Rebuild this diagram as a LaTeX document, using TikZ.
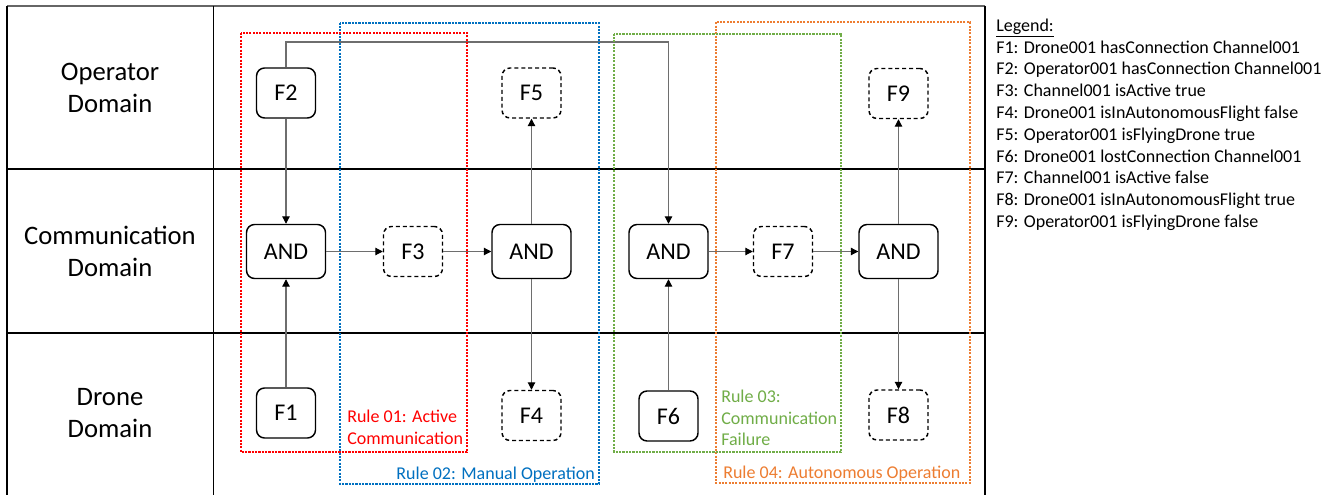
\documentclass[tikz,border=0pt]{standalone}
\usepackage{fontspec}
\setmainfont{Carlito}
\usetikzlibrary{arrows.meta}
\definecolor{ruleRed}{HTML}{FF0000}
\definecolor{ruleBlue}{HTML}{0070C0}
\definecolor{ruleGreen}{HTML}{70AD47}
\definecolor{ruleOrange}{HTML}{ED7D31}
\definecolor{wire}{HTML}{6E6E6E}
\begin{document}
\begin{tikzpicture}[x=0.75pt,y=-0.75pt,
  fact/.style={draw=black, line width=1.1pt, rounded corners=6pt, fill=white,
    minimum width=44.25pt, minimum height=37.5pt, inner sep=0pt,
    font=\fontsize{18}{20}\selectfont},
  derived/.style={fact, dash pattern=on 3pt off 2.2pt},
  gate/.style={fact, minimum width=59.25pt, minimum height=40.5pt},
  link/.style={draw=wire, line width=0.8pt,
    -{Triangle[length=5.5pt,width=5.5pt,color=black]}},
  rulebox/.style={line width=1.6pt, dash pattern=on 1.6pt off 0.9pt},
  lanelabel/.style={font=\fontsize{20}{24}\selectfont, align=center},
  rulelabel/.style={font=\fontsize{13.5}{16}\selectfont, align=left, inner sep=0pt},
  gridline/.style={draw=black, line width=1.2pt}
]
% canvas
\fill[white] (0,0) rectangle (1332,495);
\useasboundingbox (0,0) rectangle (1332,495);

% swimlane table
\draw[draw=black!60, line width=0.8pt] (7,6) -- (985,6);
\draw[gridline] (7,6) -- (7,495);
\draw[gridline] (985,6) -- (985,495);
\draw[draw=black, line width=0.7pt] (213,6) -- (213,495);
\draw[gridline] (7,169) -- (985,169);
\draw[gridline] (7,333) -- (985,333);

\node[lanelabel] (opd) at (110,88) {Operator\\Domain};
\node[lanelabel] (comd) at (110,251) {Communication\\Domain};
\node[lanelabel] (drd) at (110,413) {Drone\\Domain};

% facts and conjunctions
\node[fact] (F2) at (286,93) {F2};
\node[fact] (F1) at (286,413) {F1};
\node[gate] (A1) at (286,251.5) {AND};
\node[derived] (F3) at (413,251.5) {F3};
\node[gate] (A2) at (531.5,251.5) {AND};
\node[derived] (F5) at (531.5,93) {F5};
\node[derived] (F4) at (531.5,415.5) {F4};
\node[gate] (A3) at (668.5,251.5) {AND};
\node[fact] (F6) at (668.5,416) {F6};
\node[derived] (F7) at (783,251.5) {F7};
\node[gate] (A4) at (898.5,251.5) {AND};
\node[derived] (F9) at (898.5,93.5) {F9};
\node[derived] (F8) at (898.5,415) {F8};

% inference links
\coordinate (bus) at (0,42);
\draw[link] (F2) -- (A1);
\draw[link] (F1) -- (A1);
\draw[link] (A1) -- (F3);
\draw[link] (F3) -- (A2);
\draw[link] (A2) -- (F5);
\draw[link] (A2) -- (F4);
\draw[link] (F2.north) |- (bus -| A3.north) -- (A3.north);
\draw[link] (F6) -- (A3);
\draw[link] (A3) -- (F7);
\draw[link] (F7) -- (A4);
\draw[link] (A4) -- (F9);
\draw[link] (A4) -- (F8);

% rule groupings
\draw[rulebox, ruleBlue] (340,22.7) rectangle (599,484);
\draw[rulebox, ruleRed] (240.7,33) rectangle (467,452);
\draw[rulebox, ruleOrange] (716,22.3) rectangle (970,483);
\draw[rulebox, ruleGreen] (614,33.7) rectangle (841,452);

\node[rulelabel, text=ruleRed, anchor=north west] (r1) at (347,410) {Rule 01: Active\\Communication};
\node[rulelabel, text=ruleBlue, anchor=base east] (r2) at (595,479) {Rule 02: Manual Operation};
\node[rulelabel, text=ruleGreen, anchor=north west] (r3) at (721,390) {Rule 03:\\Communication\\Failure};
\node[rulelabel, text=ruleOrange, anchor=base west] (r4) at (723,478) {Rule 04: Autonomous Operation};

% legend
\node[anchor=north west, align=left, inner sep=0pt,
  font=\fontsize{13.5}{16.35}\selectfont] (legend) at (996,18.5) {%
  \underline{Legend:}\\
  F1: Drone001 hasConnection Channel001\\
  F2: Operator001 hasConnection Channel001\\
  F3: Channel001 isActive true\\
  F4: Drone001 isInAutonomousFlight false\\
  F5: Operator001 isFlyingDrone true\\
  F6: Drone001 lostConnection Channel001\\
  F7: Channel001 isActive false\\
  F8: Drone001 isInAutonomousFlight true\\
  F9: Operator001 isFlyingDrone false};
\end{tikzpicture}
\end{document}
